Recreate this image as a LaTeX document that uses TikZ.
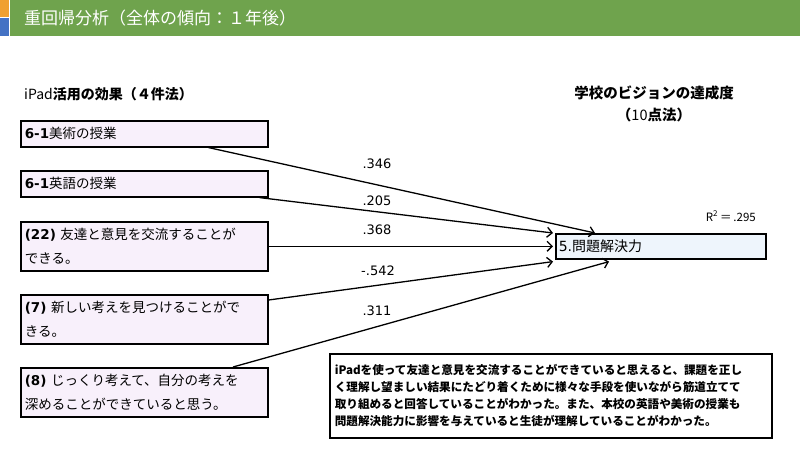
\documentclass[tikz,border=0pt]{standalone}
\usepackage{fontspec}
\setmainfont{Noto Sans CJK JP}
\newfontfamily\dv{DejaVu Sans}
\usetikzlibrary{arrows.meta,calc}
\definecolor{hdrgreen}{HTML}{6FA34D}
\definecolor{hdrorange}{HTML}{F0A030}
\definecolor{hdrblue}{HTML}{4472C4}
\definecolor{boxfill}{HTML}{F8F0FB}
\definecolor{tgtfill}{HTML}{EEF5FC}
\tikzset{
  srcbox/.style={draw=black, line width=1.6pt, fill=boxfill, anchor=north west,
    minimum width=247pt, text width=239pt, align=left, inner xsep=4pt, inner ysep=0pt,
    font=\fontsize{13.5}{24}\selectfont},
  tgtbox/.style={draw=black, line width=1.6pt, fill=tgtfill, anchor=north west,
    minimum width=210pt, minimum height=25pt, text width=204pt, align=left, inner xsep=3pt, inner ysep=0pt,
    font=\fontsize{14}{16}\selectfont},
  pathline/.style={line width=1.3pt, -{Straight Barb[length=5pt,width=10pt,line width=1.3pt]}},
  coef/.style={font=\dv\fontsize{13}{15}\selectfont, inner sep=0pt},
}
\begin{document}
\begin{tikzpicture}[x=1pt,y=-1pt]
\useasboundingbox (0,0) rectangle (800,450);
% header
\fill[hdrgreen] (10,0) rectangle (800,36);
\fill[hdrorange] (0,0) rectangle (9,17);
\fill[hdrblue] (0,18) rectangle (9,36);
\node[anchor=west, text=white, inner sep=0pt, font=\fontsize{17}{18}\selectfont] (hdr) at (24,18) {重回帰分析（全体の傾向：１年後）};
% titles
\node[anchor=west, inner sep=0pt, font=\fontsize{14}{16}\selectfont] (ltitle) at (24,94) {iPad{\bfseries 活用の効果（４件法）}};
\node[inner sep=0pt, font=\fontsize{14.5}{16}\selectfont] (rtitle) at (654,93) {\bfseries 学校のビジョンの達成度};
\node[inner sep=0pt, font=\fontsize{14.5}{16}\selectfont] (rtitle2) at (654,115) {{\bfseries （}10{\bfseries 点法）}};
% source boxes
\node[srcbox, minimum height=26pt] (b1) at (20,120) {{\dv\bfseries 6-1}美術の授業};
\node[srcbox, minimum height=26pt] (b2) at (20,170) {{\dv\bfseries 6-1}英語の授業};
\node[srcbox, minimum height=49pt] (b3) at (20,221) {{\dv\bfseries (22)} 友達と意見を交流することが\\できる。};
\node[srcbox, minimum height=49pt] (b4) at (20,294) {{\dv\bfseries (7)} 新しい考えを見つけることがで\\きる。};
\node[srcbox, minimum height=49pt] (b5) at (20,367) {{\dv\bfseries (8)} じっくり考えて、自分の考えを\\深めることができていると思う。};
% target
\node[tgtbox] (t) at (555,233) {{\dv 5.}問題解決力};
\node[anchor=east, inner sep=0pt, font=\fontsize{11.5}{12}\selectfont] (r2) at (756,216) {R\textsuperscript{2}\,＝\,.295};
% paths
\draw[pathline] ($(b1.south east)+(-60,0)$) -- ($(t.north west)+(40,0)$);
\draw[pathline] ($(b2.south east)+(-9,0)$) -- ($(t.north west)+(-2,0)$);
\draw[pathline] (b3.east) -- ($(t.west)+(-2,0)$);
\draw[pathline] ($(b4.north east)+(0,6)$) -- ($(t.south west)+(-2,2)$);
\draw[pathline] ($(b5.north west)+(213,0)$) -- ($(t.south west)+(54,2)$);
% coefficients
\node[coef] (c1) at (377,164) {.346};
\node[coef] (c2) at (377,201) {.205};
\node[coef] (c3) at (377,230) {.368};
\node[coef] (c4) at (378,271) {-.542};
\node[coef] (c5) at (377,311) {.311};
% comment
\node[draw=black, line width=1.6pt, anchor=north west, minimum width=442pt, minimum height=84pt,
  text width=432pt, align=left, inner xsep=5pt, inner ysep=0pt,
  font=\bfseries\fontsize{11.6}{17}\selectfont] (note) at (329,353)
  {iPadを使って友達と意見を交流することができていると思えると、課題を正し\\
   く理解し望ましい結果にたどり着くために様々な手段を使いながら筋道立てて\\
   取り組めると回答していることがわかった。また、本校の英語や美術の授業も\\
   問題解決能力に影響を与えていると生徒が理解していることがわかった。};
\end{tikzpicture}
\end{document}
